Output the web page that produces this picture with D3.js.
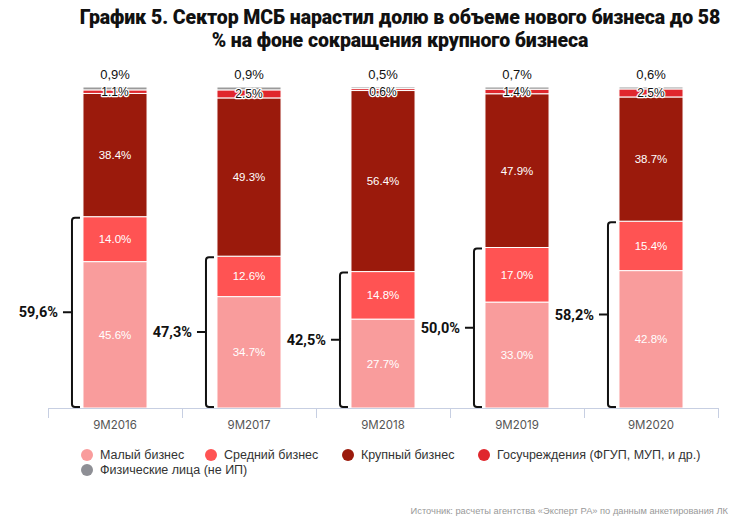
<!DOCTYPE html>
<html>
<head>
<meta charset="utf-8">
<script src="https://cdn.jsdelivr.net/npm/d3@7"></script>
<style>
  html, body { margin: 0; padding: 0; background: #fff; }
  svg { display: block; }
</style>
</head>
<body>
<svg id="chart" width="751" height="531"></svg>
<script>
// ---- data ----
const categories = ['9M2016', '9M2017', '9M2018', '9M2019', '9M2020'];
const smallBiz   = [45.6, 34.7, 27.7, 33.0, 42.8];
const mediumBiz  = [14.0, 12.6, 14.8, 17.0, 15.4];
const largeBiz   = [38.4, 49.3, 56.4, 47.9, 38.7];
const govBiz     = [1.1, 2.5, 0.6, 1.4, 2.5];
const persons    = [0.9, 0.9, 0.5, 0.7, 0.6];
const smeTotals  = ['59,6%', '47,3%', '42,5%', '50,0%', '58,2%'];
const seriesNames = ['Малый бизнес', 'Средний бизнес', 'Крупный бизнес', 'Госучреждения (ФГУП, МУП, и др.)', 'Физические лица (не ИП)'];
const yTicks = [0, 100];
const titleLines = ['График 5. Сектор МСБ нарастил долю в объеме нового бизнеса до 58', '% на фоне сокращения крупного бизнеса'];
const sourceText = 'Источник: расчеты агентства «Эксперт РА» по данным анкетирования ЛК';

// ---- styles ----
const keys = ['small', 'medium', 'large', 'gov', 'persons'];
const colors = ['#f99c9c', '#ff5353', '#9b1a0c', '#e0272d', '#9a9a9a'];
const legendColors = ['#f99c9c', '#ff5353', '#9b1a0c', '#e0272d', '#8e8f95'];

const rows = categories.map((c, i) => ({
  cat: c, small: smallBiz[i], medium: mediumBiz[i], large: largeBiz[i], gov: govBiz[i], persons: persons[i]
}));

const svg = d3.select('#chart');

const x = d3.scaleBand().domain(categories).range([48, 718]).paddingInner(0.522).paddingOuter(0.261);
const y = d3.scaleLinear().domain(d3.extent(yTicks)).range([408, 87]);
const color = d3.scaleOrdinal().domain(keys).range(colors);

const stacked = d3.stack().keys(keys)(rows);

// title
svg.append('g').selectAll('text').data(titleLines).join('text')
  .attr('x', 400).attr('y', (d, i) => 24 + i * 23)
  .attr('text-anchor', 'middle')
  .attr('font-family', 'Roboto, "Liberation Sans", sans-serif')
  .attr('font-weight', 900).attr('font-size', 19.5)
  .attr('letter-spacing', -0.1)
  .attr('fill', '#111')
  .text(d => d);

// bars
const gSeries = svg.append('g').selectAll('g').data(stacked).join('g')
  .attr('fill', d => color(d.key));
gSeries.selectAll('rect').data(d => d).join('rect')
  .attr('x', d => x(d.data.cat))
  .attr('width', x.bandwidth())
  .attr('y', d => y(d[1]))
  .attr('height', d => y(d[0]) - y(d[1]))
  .attr('stroke', '#fff').attr('stroke-width', 1);

// in-bar labels for small, medium, large
const inKeys = ['small', 'medium', 'large'];
stacked.filter(s => inKeys.includes(s.key)).forEach(s => {
  svg.append('g').selectAll('text').data(s).join('text')
    .attr('x', d => x(d.data.cat) + x.bandwidth() / 2)
    .attr('y', d => (y(d[0]) + y(d[1])) / 2)
    .attr('dy', '0.35em')
    .attr('text-anchor', 'middle')
    .attr('font-family', '"Liberation Sans", Arial, sans-serif')
    .attr('font-size', 11.5)
    .attr('fill', '#fff')
    .text(d => d.data[s.key].toFixed(1) + '%');
});

// gov labels (dark with white halo)
const govS = stacked.find(s => s.key === 'gov');
svg.append('g').selectAll('text').data(govS).join('text')
  .attr('x', d => x(d.data.cat) + x.bandwidth() / 2)
  .attr('y', d => Math.max((y(d[0]) + y(d[1])) / 2, y(100) + 5))
  .attr('dy', '0.35em')
  .attr('text-anchor', 'middle')
  .attr('font-family', '"Liberation Sans", Arial, sans-serif')
  .attr('font-size', 12)
  .attr('fill', '#111')
  .attr('stroke', '#fff').attr('stroke-width', 2.4)
  .attr('paint-order', 'stroke')
  .attr('stroke-linejoin', 'round')
  .text(d => d.data.gov.toFixed(1) + '%');

// top labels (persons)
const perS = stacked.find(s => s.key === 'persons');
svg.append('g').selectAll('text').data(perS).join('text')
  .attr('x', d => x(d.data.cat) + x.bandwidth() / 2)
  .attr('y', d => y(d[1]) - 13)
  .attr('dy', '0.35em')
  .attr('text-anchor', 'middle')
  .attr('font-family', '"Liberation Sans", Arial, sans-serif')
  .attr('font-size', 13)
  .attr('fill', '#111')
  .text(d => d.data.persons.toFixed(1).replace('.', ',') + '%');

// braces
const medS = stacked.find(s => s.key === 'medium');
const braceG = svg.append('g');
medS.forEach((d, i) => {
  const bx = x(d.data.cat) - 11;
  const top = y(d[1]) + 1;
  const bot = y(0) - 1;
  const mid = (top + bot) / 2;
  const p = d3.path();
  p.moveTo(bx + 8, top);
  p.lineTo(bx + 3, top);
  p.quadraticCurveTo(bx, top, bx, top + 3);
  p.lineTo(bx, bot - 3);
  p.quadraticCurveTo(bx, bot, bx + 3, bot);
  p.lineTo(bx + 8, bot);
  p.moveTo(bx, mid);
  p.lineTo(bx - 9, mid);
  braceG.append('path').attr('d', p.toString())
    .attr('fill', 'none').attr('stroke', '#111').attr('stroke-width', 2);
  braceG.append('text')
    .attr('x', bx - 14).attr('y', mid).attr('dy', '0.35em')
    .attr('text-anchor', 'end')
    .attr('font-family', 'Roboto, "Liberation Sans", sans-serif')
    .attr('font-weight', 700).attr('font-size', 14.5)
    .attr('fill', '#111')
    .text(smeTotals[i]);
});

// x axis
const axisColor = '#c7cfe2';
const step = x.step();
const x0 = x.range()[0];
const axG = svg.append('g');
axG.append('line').attr('x1', x0).attr('x2', x.range()[1]).attr('y1', y(0) + 0.5).attr('y2', y(0) + 0.5)
  .attr('stroke', axisColor).attr('stroke-width', 1);
axG.selectAll('line.tick').data(d3.range(categories.length + 1)).join('line')
  .attr('class', 'tick')
  .attr('x1', i => x0 + i * step + 0.5).attr('x2', i => x0 + i * step + 0.5)
  .attr('y1', y(0)).attr('y2', y(0) + 10)
  .attr('stroke', axisColor).attr('stroke-width', 1);
axG.selectAll('text').data(categories).join('text')
  .attr('x', d => x(d) + x.bandwidth() / 2)
  .attr('y', y(0) + 17).attr('dy', '0.35em')
  .attr('text-anchor', 'middle')
  .attr('font-family', 'Inter, "Liberation Sans", sans-serif')
  .attr('font-size', 11.5)
  .attr('fill', '#555')
  .text(d => d);

// legend
const legendPos = [[87, 455], [211, 455], [348, 455], [484, 455], [87, 470]];
const lg = svg.append('g').selectAll('g').data(seriesNames).join('g')
  .attr('transform', (d, i) => `translate(${legendPos[i][0]},${legendPos[i][1]})`);
lg.append('circle').attr('r', 6).attr('fill', (d, i) => legendColors[i]);
lg.append('text').attr('x', 13).attr('dy', '0.35em')
  .attr('font-family', '"Liberation Sans", Arial, sans-serif')
  .attr('font-size', 12.5)
  .attr('fill', '#333')
  .text(d => d);

// source
svg.append('text')
  .attr('x', 728).attr('y', 511).attr('dy', '0.35em')
  .attr('text-anchor', 'end')
  .attr('font-family', '"Liberation Sans Narrow", "Liberation Sans", Arial, sans-serif')
  .attr('font-size', 9.3)
  .attr('fill', '#999')
  .text(sourceText);
</script>
</body>
</html>
